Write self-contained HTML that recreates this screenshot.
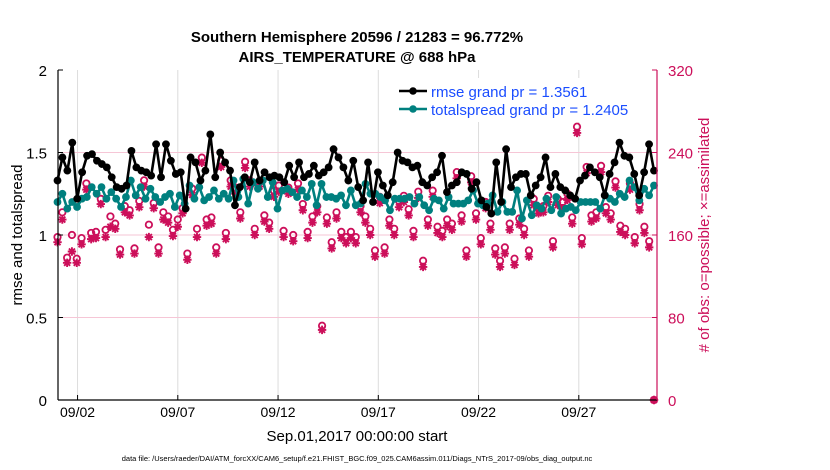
<!DOCTYPE html>
<html><head><meta charset="utf-8"><style>
body{margin:0;background:#fff;}
svg{display:block;font-family:"Liberation Sans",sans-serif;}
</style></head><body>
<svg id="chart" width="830" height="470" viewBox="0 0 830 470" xmlns="http://www.w3.org/2000/svg">
<text x="357" y="42" text-anchor="middle" font-size="15" font-weight="bold">Southern Hemisphere 20596 / 21283 = 96.772%</text>
<text x="357" y="62" text-anchor="middle" font-size="15" font-weight="bold">AIRS_TEMPERATURE @ 688 hPa</text>
<g id="grid"></g>
<g id="marks"></g>
<g id="axes"></g>
<text transform="translate(22,235) rotate(-90)" text-anchor="middle" font-size="15">rmse and totalspread</text>
<text transform="translate(709,235) rotate(-90)" text-anchor="middle" font-size="15" fill="#cc0f5a"># of obs: o=possible; ×=assimilated</text>
<text x="357" y="441" text-anchor="middle" font-size="15">Sep.01,2017 00:00:00 start</text>
<text x="357" y="461" text-anchor="middle" font-size="7.5">data file: /Users/raeder/DAI/ATM_forcXX/CAM6_setup/f.e21.FHIST_BGC.f09_025.CAM6assim.011/Diags_NTrS_2017-09/obs_diag_output.nc</text>
<g id="legend">
<rect x="395" y="78" width="250" height="44" fill="#fff"/>
<line x1="399" y1="91" x2="427" y2="91" stroke="#000" stroke-width="2.5"/>
<circle cx="413" cy="91" r="3.8" fill="#000"/>
<text x="431" y="97" font-size="15" fill="#1a4dff">rmse grand pr = 1.3561</text>
<line x1="399" y1="109" x2="427" y2="109" stroke="#00807f" stroke-width="2.5"/>
<circle cx="413" cy="109" r="3.8" fill="#00807f"/>
<text x="431" y="115" font-size="15" fill="#1a4dff">totalspread grand pr = 1.2405</text>
</g>
</svg>
<script>
const rmse=[1.33,1.47,1.39,1.56,1.22,1.38,1.48,1.49,1.45,1.43,1.41,1.35,1.29,1.28,1.30,1.51,1.41,1.39,1.38,1.36,1.55,1.35,1.55,1.45,1.37,1.38,1.16,1.47,1.44,1.33,1.39,1.61,
1.35,1.50,1.44,1.39,1.18,1.29,1.35,1.32,1.44,1.33,1.38,1.35,1.36,1.35,1.32,1.42,1.35,1.44,1.35,1.37,1.42,1.36,1.38,1.41,1.52,1.47,1.41,1.33,1.45,1.29,
1.21,1.44,1.20,1.38,1.30,1.24,1.32,1.50,1.45,1.44,1.41,1.42,1.32,1.30,1.35,1.38,1.48,1.26,1.30,1.32,1.38,1.37,1.28,1.32,1.21,1.17,1.13,1.44,1.20,1.52,1.29,
1.35,1.37,1.37,1.24,1.30,1.35,1.47,1.29,1.37,1.29,1.27,1.24,1.22,1.33,1.36,1.41,1.38,1.35,1.24,1.37,1.44,1.56,1.48,1.47,1.37,1.24,1.38,1.55,1.39];
const spread=[1.20,1.25,1.16,1.20,1.17,1.22,1.23,1.29,1.25,1.29,1.22,1.26,1.22,1.17,1.23,1.33,1.24,1.29,1.22,1.28,1.23,1.20,1.23,1.25,1.17,1.24,1.19,1.30,1.22,1.29,1.21,
1.23,1.27,1.22,1.25,1.22,1.33,1.23,1.34,1.19,1.32,1.28,1.33,1.23,1.32,1.16,1.27,1.28,1.26,1.23,1.27,1.23,1.31,1.18,1.31,1.23,1.23,1.22,1.24,1.18,1.27,1.18,
1.19,1.31,1.25,1.25,1.23,1.21,1.15,1.22,1.22,1.22,1.23,1.19,1.23,1.18,1.15,1.22,1.21,1.16,1.23,1.19,1.19,1.19,1.21,1.27,1.19,1.18,1.19,1.24,1.14,1.20,1.14,
1.14,1.27,1.10,1.21,1.12,1.18,1.16,1.22,1.15,1.23,1.13,1.16,1.17,1.15,1.20,1.20,1.20,1.20,1.16,1.24,1.22,1.20,1.25,1.23,1.33,1.29,1.21,1.28,1.24,1.30];
const assim=[153,175,133,144,133,151,204,156,157,190,158,168,166,141,182,179,142,187,207,158,186,142,175,172,159,168,181,136,199,158,230,
169,171,142,226,156,207,200,176,225,207,160,207,173,166,197,202,158,200,154,204,184,157,172,182,68,171,147,176,157,152,
157,152,182,172,160,139,191,142,169,160,187,192,179,158,196,129,169,197,162,158,169,165,215,173,139,211,175,151,186,165,141,129,
142,165,131,170,160,139,189,181,182,192,148,189,186,194,171,259,151,220,173,176,221,181,175,206,163,160,204,152,184,162,148,0];
const possible=[158,182,138,160,137,157,210,162,163,195,165,178,171,146,188,184,147,193,213,170,191,148,182,178,165,175,186,142,205,166,235,
175,177,148,232,162,213,206,182,231,213,166,212,179,172,203,208,164,206,160,210,190,163,178,188,72,177,153,182,163,158,
163,158,188,178,166,145,197,148,175,166,193,198,185,164,202,135,175,203,168,164,175,171,221,179,145,217,181,157,192,171,147,135,
148,171,137,176,166,145,195,187,188,198,154,195,192,200,177,265,157,226,179,182,227,187,181,212,169,166,210,158,190,168,154,0];
const xTickLabels=["09/02","09/07","09/12","09/17","09/22","09/27"];
const xTickDays=[1,6,11,16,21,26];
const leftTicks=[0,0.5,1,1.5,2];
const rightTicks=[0,80,160,240,320];

const NS="http://www.w3.org/2000/svg";
const X0=57.5,PXD=20.05,L=58,R=657,T=70,B=400,END=29.75;
const xs=d=>X0+d*PXD;
const yl=v=>B-(v/2)*(B-T);
const yr=v=>B-(v/320)*(B-T);
const tOf=(i,n)=>i*(END/(n-1));
function mk(tag,attrs,parent){const e=document.createElementNS(NS,tag);for(const k in attrs)e.setAttribute(k,attrs[k]);parent.appendChild(e);return e;}
const grid=document.getElementById('grid'),marks=document.getElementById('marks'),axes=document.getElementById('axes');
const MAG="#cc0f5a",TEAL="#00807f";
xTickDays.forEach((d,i)=>{const g=mk('line',{x1:xs(d),x2:xs(d),y1:T,y2:B,stroke:'#dcdcdc','stroke-width':1},grid);

const t=mk('text',{x:xs(d),y:417,'text-anchor':'middle','font-size':14},axes);t.textContent=xTickLabels[i];

const tk=mk('line',{x1:xs(d),x2:xs(d),y1:B,y2:B-5,stroke:'#000'},axes);
});
rightTicks.forEach(v=>{if(v>0&&v<320){const g=mk('line',{x1:L,x2:R,y1:yr(v),y2:yr(v),stroke:'#f6c6d6','stroke-width':1},grid);
}
const t=mk('text',{x:668,y:yr(v)+6,'font-size':15,fill:MAG},axes);t.textContent=v;

const tk=mk('line',{x1:R,x2:R-5,y1:yr(v),y2:yr(v),stroke:MAG},axes);
});
leftTicks.forEach(v=>{const t=mk('text',{x:47,y:yl(v)+6,'text-anchor':'end','font-size':15},axes);t.textContent=v;

const tk=mk('line',{x1:L,x2:L+5,y1:yl(v),y2:yl(v),stroke:'#000'},axes);
});
possible.forEach((v,i)=>{const c=mk('circle',{cx:xs(tOf(i,possible.length)),cy:yr(v),r:3.2,fill:'none',stroke:MAG,'stroke-width':1.8},marks);
});
assim.forEach((v,i)=>{const x=xs(tOf(i,assim.length)),y=yr(v);
const s=mk('path',{d:`M${x-4.2},${y}h8.4M${x},${y-4.2}v8.4M${x-3},${y-3}l6,6M${x-3},${y+3}l6,-6`,stroke:MAG,'stroke-width':1.9},marks);
});
function series(arr,col,name){const p=arr.map((v,i)=>`${xs(tOf(i,arr.length)).toFixed(1)},${yl(v).toFixed(1)}`).join(' ');
const pl=mk('polyline',{points:p,fill:'none',stroke:col,'stroke-width':2.6,'stroke-linejoin':'round'},marks);

arr.forEach((v,i)=>{const c=mk('circle',{cx:xs(tOf(i,arr.length)),cy:yl(v),r:3.9,fill:col},marks);
});}
series(spread,TEAL,'totalspread');
series(rmse,'#000','rmse');
const la=mk('line',{x1:L,x2:L,y1:T,y2:B,stroke:'#000','stroke-width':1.2},axes);

const ba=mk('line',{x1:L,x2:R,y1:B,y2:B,stroke:'#000','stroke-width':1.2},axes);

const ra=mk('line',{x1:R,x2:R,y1:T,y2:B,stroke:MAG,'stroke-width':1.2},axes);

</script>
</body></html>
